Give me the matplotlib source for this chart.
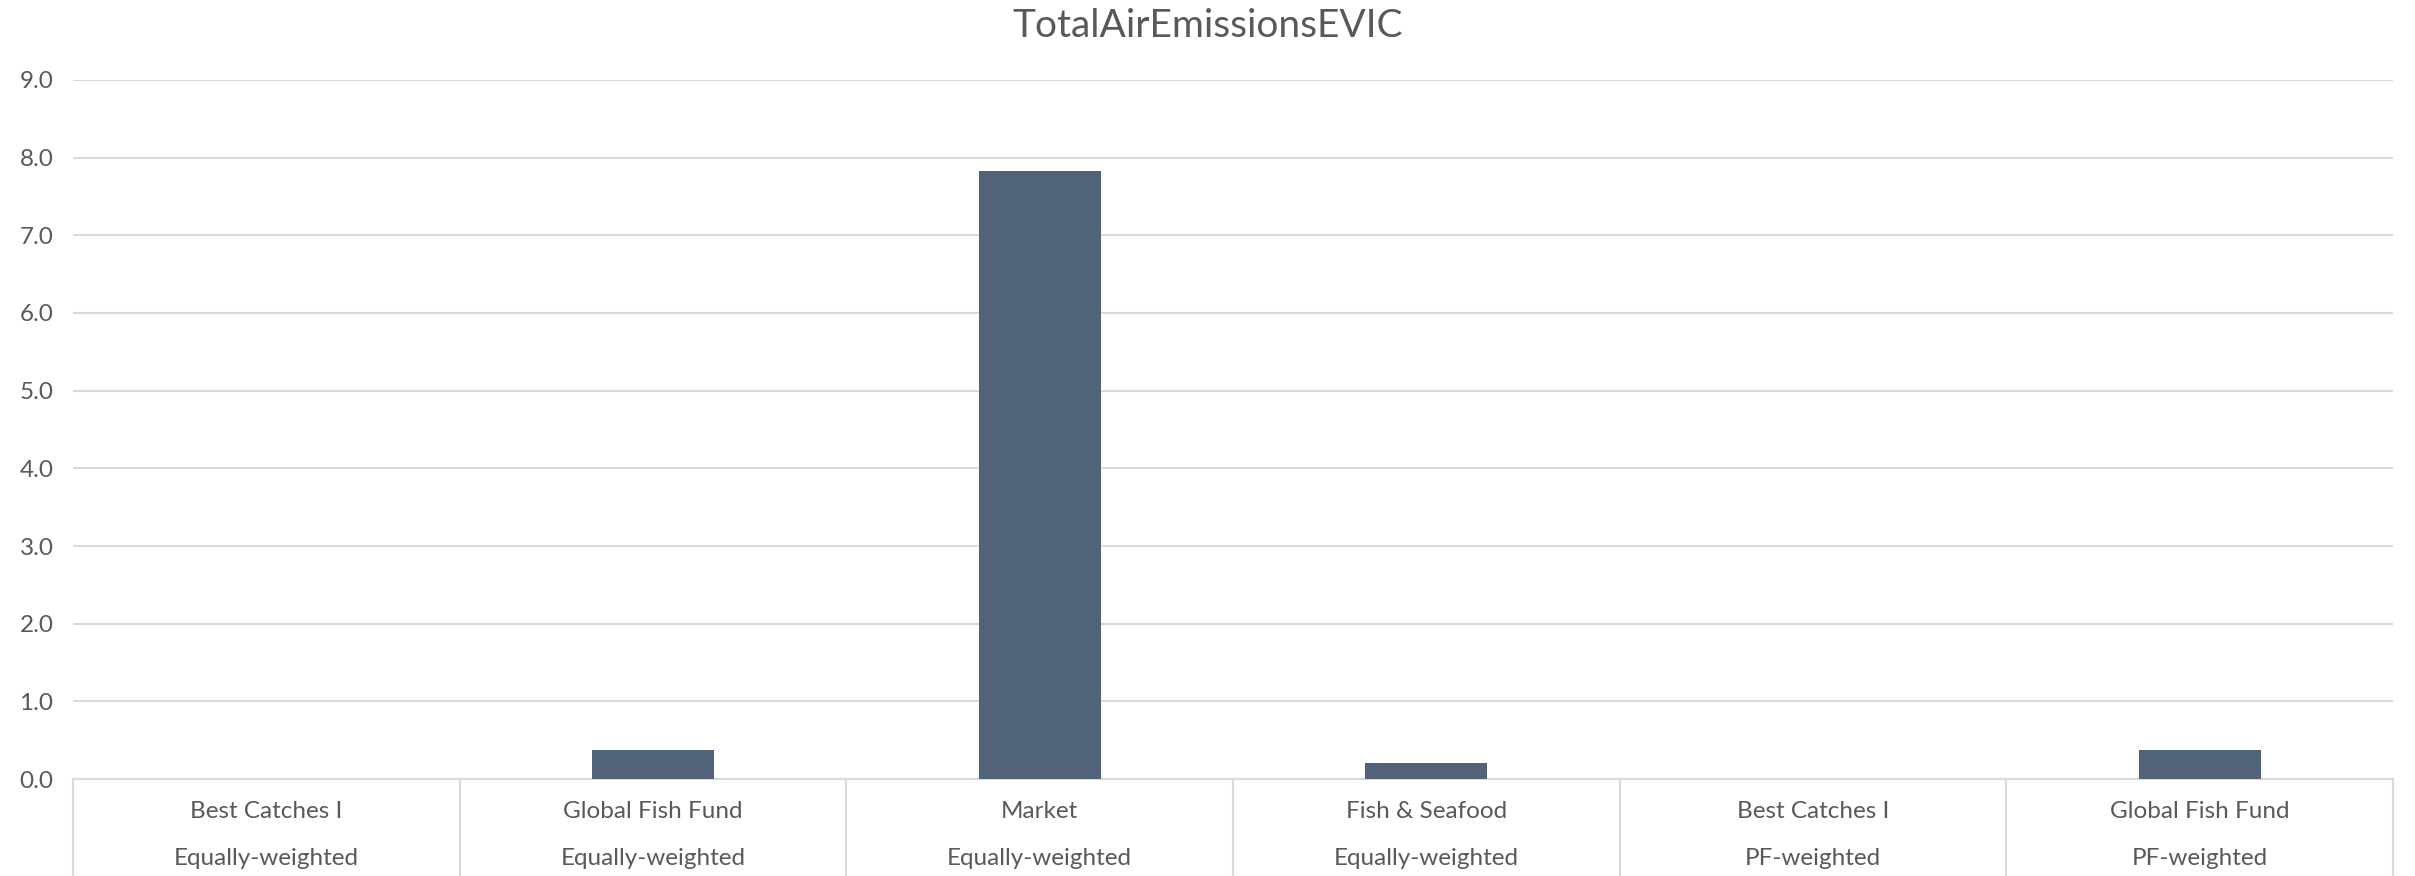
import numpy as np
import matplotlib.pyplot as plt
import matplotlib.transforms as mtransforms

plt.rcParams['font.family'] = ['Lato', 'DejaVu Sans']

# Data
funds = ['Best Catches I', 'Global Fish Fund', 'Market', 'Fish & Seafood',
         'Best Catches I', 'Global Fish Fund']
weighting = ['Equally-weighted', 'Equally-weighted', 'Equally-weighted',
             'Equally-weighted', 'PF-weighted', 'PF-weighted']
values = [0.0, 0.38, 7.83, 0.21, 0.0, 0.38]
yticks = np.arange(0, 10, 1)

text_color = '#595959'
grid_color = '#d9d9d9'
bar_color = '#506378'

fig = plt.figure(figsize=(24.15, 8.76), dpi=100)
ax = fig.add_axes([0.0302, 0.1107, 0.9607, 0.798])

x = np.arange(len(funds))
ax.bar(x, values, width=0.315, color=bar_color, zorder=3)

ax.set_xlim(-0.5, len(funds) - 0.5)
ax.set_ylim(0, 9)
ax.set_yticks(yticks)
ax.set_yticklabels([f'{v:.1f}' for v in yticks], fontsize=17.5, color=text_color)
ax.tick_params(axis='y', length=0, pad=14)
ax.set_xticks([])
ax.yaxis.grid(True, color=grid_color, linewidth=1.5, zorder=0)
for s in ['top', 'right', 'left']:
    ax.spines[s].set_visible(False)
ax.spines['bottom'].set_color(grid_color)
ax.spines['bottom'].set_linewidth(1.5)

# category boxes below the axis
trans = mtransforms.blended_transform_factory(ax.transData, ax.transAxes)
for b in np.arange(len(funds) + 1) - 0.5:
    ax.plot([b, b], [0, -0.14], transform=trans, color=grid_color,
            linewidth=1.5, clip_on=False)
for i, (f, w) in enumerate(zip(funds, weighting)):
    ax.text(i, -0.047, f, transform=trans, ha='center', va='center',
            fontsize=17.5, color=text_color)
    ax.text(i, -0.113, w, transform=trans, ha='center', va='center',
            fontsize=17.5, color=text_color)

fig.text(0.5, 1 - 26 / 876, 'TotalAirEmissionsEVIC', ha='center', va='center',
         fontsize=28, color=text_color)

fig.savefig('out.png', dpi=100)
